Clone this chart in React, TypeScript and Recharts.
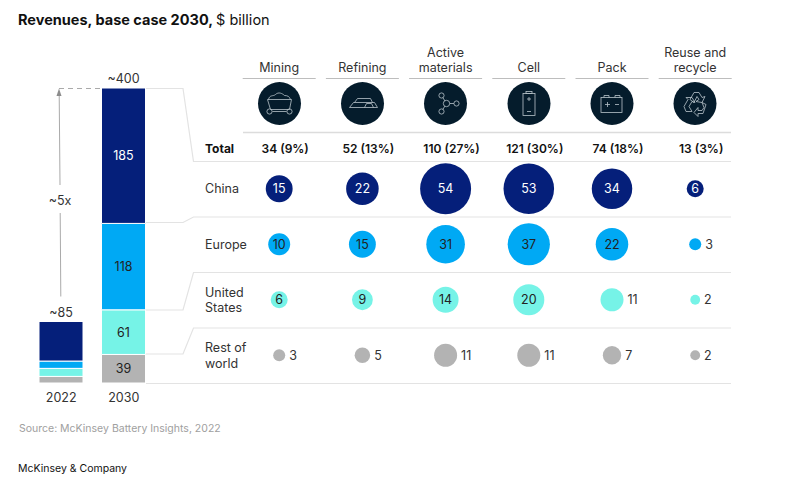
import React from 'react';
import { BarChart, Bar, XAxis, YAxis, LabelList, ScatterChart, Scatter, ZAxis } from 'recharts';

const FONT = 'Inter, "Noto Sans", sans-serif';
const NAVY = '#051F7A';
const BLUE = '#00A9F4';
const TEAL = '#76F3E7';
const GRAY = '#B3B3B3';
const INK = '#222222';
const RULE = '#E3E3E3';

// stacked bars
const years = ['2022', '2030'];
const chinaTotals = [54, 185];
const europeTotals = [10, 118];
const usTotals = [11, 61];
const restTotals = [9, 39];
const barTopLabels = ['~85', '~400'];

// bubble table
const stages = ['Mining', 'Refining', 'Active materials', 'Cell', 'Pack', 'Reuse and recycle'];
const stageTotals = ['34 (9%)', '52 (13%)', '110 (27%)', '121 (30%)', '74 (18%)', '13 (3%)'];
const regions = ['China', 'Europe', 'United States', 'Rest of world'];
const chinaValues = [15, 22, 54, 53, 34, 6];
const europeValues = [10, 15, 31, 37, 22, 3];
const usValues = [6, 9, 14, 20, 11, 2];
const restValues = [3, 5, 11, 11, 7, 2];
// which bubbles carry their number beside them instead of inside
const chinaOutside = [false, false, false, false, false, false];
const europeOutside = [false, false, false, false, false, true];
const usOutside = [false, false, false, false, true, true];
const restOutside = [true, true, true, true, true, true];

const barData = years.map((year, i) => ({
    year,
    china: chinaTotals[i],
    europe: europeTotals[i],
    us: usTotals[i],
    rest: restTotals[i],
    chinaLabel: i === 1 ? chinaTotals[i] : null,
    europeLabel: i === 1 ? europeTotals[i] : null,
    usLabel: i === 1 ? usTotals[i] : null,
    restLabel: i === 1 ? restTotals[i] : null,
    top: barTopLabels[i],
}));

const bubbleSeries = [
    { name: regions[0], values: chinaValues, outside: chinaOutside, fill: NAVY, text: '#FFFFFF' },
    { name: regions[1], values: europeValues, outside: europeOutside, fill: BLUE, text: INK },
    { name: regions[2], values: usValues, outside: usOutside, fill: TEAL, text: INK },
    { name: regions[3], values: restValues, outside: restOutside, fill: GRAY, text: INK },
];

const rowsFor = (s: any) =>
    s.values.map((value: number, i: number) => ({
        stage: stages[i],
        region: s.name,
        value,
        outside: s.outside[i],
    }));

const stageLines: Record<string, string[]> = {
    'Active materials': ['Active', 'materials'],
    'Reuse and recycle': ['Reuse and', 'recycle'],
};
const regionLines: Record<string, string[]> = {
    'United States': ['United', 'States'],
    'Rest of world': ['Rest of', 'world'],
};

const StageTick = ({ x, payload, index }: any) => {
    const lines = stageLines[payload.value] || [payload.value];
    return (
        <g fontFamily={FONT}>
            {lines.map((line, i) => (
                <text key={line} x={x} y={72 - (lines.length - 1 - i) * 15} textAnchor="middle" fontSize={12.5} fill="#333">
                    {line}
                </text>
            ))}
            <line x1={x - 36.5} x2={x + 36.5} y1={78.5} y2={78.5} stroke="#BDBDBD" />
            <text x={x + 6} y={152.5} textAnchor="middle" fontSize={12} fontWeight={600} fill="#111">
                {stageTotals[index]}
            </text>
        </g>
    );
};

const RegionTick = ({ y, payload }: any) => {
    const lines = regionLines[payload.value] || [payload.value];
    return (
        <g fontFamily={FONT}>
            {lines.map((line, i) => (
                <text key={line} x={205} y={y + 4.5 + (i - (lines.length - 1) / 2) * 15.5} fontSize={12.5} fill="#333">
                    {line}
                </text>
            ))}
        </g>
    );
};

const Bubble = (fill: string, textFill: string) => (props: any) => {
    const { cx, cy, width, payload } = props;
    const r = width / 2;
    const outside = payload.outside;
    return (
        <g>
            <circle cx={cx} cy={cy} r={r} fill={fill} />
            <text
                x={outside ? cx + r + 4 : cx}
                y={cy + 4.5}
                textAnchor={outside ? 'start' : 'middle'}
                fontFamily={FONT}
                fontSize={12.5}
                fill={outside ? '#333' : textFill}
            >
                {payload.value}
            </text>
        </g>
    );
};

const Icon = ({ x, kind }: { x: number; kind: number }) => (
    <g transform={`translate(${x},103.5)`} fill="none" stroke="#B9C4CA" strokeWidth={0.8}>
        <circle r={21.5} fill="#051C2C" stroke="none" />
        {kind === 0 && (
            <>
                <path d="M-12,-4 L12,-4 L10,6 L-9,6 Z" />
                <path d="M-11,-4 C-10,-9 -6,-7 -4,-9 C-1,-12 3,-10 5,-8 C8,-8 10,-7 11,-4" />
                <circle cx={-10} cy={8} r={2.6} />
                <circle cx={10} cy={8} r={2.6} />
                <path d="M-7,8 L7,8" />
            </>
        )}
        {kind === 1 && (
            <>
                <path d="M-13,4 L-9,-1 L12,-1 L15,4 Z" />
                <path d="M-8,-1 L-5,-5 L8,-5 L10,-1" />
                <path d="M2,4 L4,0 L9,0 L11,4" />
            </>
        )}
        {kind === 2 && (
            <>
                <circle cx={1} cy={0} r={3.2} />
                <circle cx={-4} cy={-8} r={2.6} />
                <circle cx={-4} cy={8} r={2.6} />
                <circle cx={11} cy={0} r={2.6} />
                <path d="M-2.6,-5.8 L-0.6,-2.6 M-2.6,5.8 L-0.6,2.6 M4.2,0 L8.4,0" />
            </>
        )}
        {kind === 3 && (
            <>
                <rect x={-6} y={-10} width={12} height={22} />
                <rect x={-3} y={-12} width={6} height={2} />
                <path d="M-2,-4.5 L2,-4.5 M0,-6.5 L0,-2.5 M-2,8 L2,8" />
            </>
        )}
        {kind === 4 && (
            <>
                <rect x={-11} y={-6} width={21} height={15} />
                <path d="M-8,-6 L-8,-8 L-3,-8 L-3,-6 M3,-6 L3,-8 L8,-8 L8,-6" />
                <path d="M-7,1 L-2,1 M-4.5,-1.5 L-4.5,3.5 M3,1 L7,1" />
            </>
        )}
        {kind === 5 && (
            <>
                <path d="M-5,-4 L-1,-11 L4,-11 L7,-6 L10,-7 L7,-1 L1,-2 L4,-4 L2,-7 L-1,-1 Z" />
                <path d="M-11,3 L-7,-4 L-9,-6 L-3,-6 L0,-1 L-3,-2 L-6,3 L-3,8 L-9,8 Z" />
                <path d="M11,1 L7,-1 L9,4 L7,7 L3,7 L3,4 L-1,9 L3,13 L3,10 L8,10 Z" />
            </>
        )}
    </g>
);

const connectors = [
    'M146,88.5 H183 L193.5,161.5 H731',
    'M146,222.5 H183 L193.5,217 H731',
    'M146,310 H183 L193.5,272.5 H731',
    'M146,354 H183 L193.5,328 H731',
    'M146,383.5 H731',
];

const iconCentres = [279.5, 362.5, 445.5, 529, 612, 695];

export default function App() {
    return (
        <div style={{ position: 'absolute', left: 0, top: 0, width: 792, height: 485, background: '#fff', overflow: 'hidden' }}>
            <svg width={792} height={485} style={{ position: 'absolute', left: 0, top: 0 }} fontFamily={FONT}>
                <text x={18} y={25} fontSize={14.5} fill="#111">
                    <tspan fontWeight={700}>Revenues, base case 2030, </tspan>
                    <tspan>$ billion</tspan>
                </text>

                {connectors.map((d) => (
                    <path key={d} d={d} fill="none" stroke={RULE} strokeWidth={1.2} />
                ))}
                <line x1={243} x2={731} y1={132.5} y2={132.5} stroke="#DCDCDC" strokeWidth={1.5} />

                <text x={205} y={152.5} fontSize={12} fontWeight={700} fill="#111">Total</text>

                {iconCentres.map((x, i) => (
                    <Icon key={x} x={x} kind={i} />
                ))}

                {/* growth arrow */}
                <path d="M59,88.5 H101" stroke="#AAAAAA" strokeDasharray="5 4" fill="none" />
                <path d="M59.2,94 L60,185 M60.2,213 L60.8,296.5" stroke="#AAAAAA" strokeWidth={1} fill="none" />
                <path d="M59,88.5 L56.5,96 L61.5,96 Z" fill="#8C8C8C" />
                <text x={60} y={205} textAnchor="middle" fontSize={12.5} fill="#333">~5x</text>

                <text x={19} y={432} fontSize={10.5} fill="#A0A0A0">Source: McKinsey Battery Insights, 2022</text>
                <text x={18} y={472} fontSize={10.5} fill="#111">McKinsey &amp; Company</text>
            </svg>

            <div style={{ position: 'absolute', left: 0, top: 0 }}>
                <BarChart
                    width={180}
                    height={420}
                    data={barData}
                    margin={{ top: 88, right: 25, bottom: 0, left: 30 }}
                    barSize={44}
                    stackOffset="none"
                >
                    <XAxis
                        dataKey="year"
                        axisLine={false}
                        tickLine={false}
                        interval={0}
                        height={37}
                        tickMargin={4}
                        tick={{ fill: '#333', fontSize: 12.5, fontFamily: FONT }}
                    />
                    <YAxis hide domain={[0, 403]} />
                    <Bar dataKey="rest" stackId="a" fill={GRAY} stroke="#fff" isAnimationActive={false}>
                        <LabelList dataKey="restLabel" position="center" fill={INK} fontSize={12.5} fontFamily={FONT} />
                    </Bar>
                    <Bar dataKey="us" stackId="a" fill={TEAL} stroke="#fff" isAnimationActive={false}>
                        <LabelList dataKey="usLabel" position="center" fill={INK} fontSize={12.5} fontFamily={FONT} />
                    </Bar>
                    <Bar dataKey="europe" stackId="a" fill={BLUE} stroke="#fff" isAnimationActive={false}>
                        <LabelList dataKey="europeLabel" position="center" fill={INK} fontSize={12.5} fontFamily={FONT} />
                    </Bar>
                    <Bar dataKey="china" stackId="a" fill={NAVY} stroke="#fff" isAnimationActive={false}>
                        <LabelList dataKey="chinaLabel" position="center" fill="#fff" fontSize={12.5} fontFamily={FONT} />
                        <LabelList dataKey="top" position="top" fill="#333" fontSize={12.5} fontFamily={FONT} />
                    </Bar>
                </BarChart>
            </div>

            <div style={{ position: 'absolute', left: 0, top: 0 }}>
                <ScatterChart width={792} height={420} margin={{ top: 0, right: 55.2, bottom: 37, left: 0 }}>
                    <XAxis
                        xAxisId={0}
                        type="category"
                        dataKey="stage"
                        orientation="top"
                        allowDuplicatedCategory={false}
                        domain={stages}
                        height={161}
                        axisLine={false}
                        tickLine={false}
                        interval={0}
                        tick={<StageTick />}
                    />
                    <YAxis
                        yAxisId={0}
                        type="category"
                        dataKey="region"
                        allowDuplicatedCategory={false}
                        domain={regions}
                        reversed
                        width={237.6}
                        axisLine={false}
                        tickLine={false}
                        interval={0}
                        tick={<RegionTick />}
                    />
                    <ZAxis type="number" dataKey="value" domain={[0, 54]} range={[0, 2043]} />
                    {bubbleSeries.map((s) => (
                        <Scatter
                            key={s.name}
                            name={s.name}
                            data={rowsFor(s)}
                            fill={s.fill}
                            shape={Bubble(s.fill, s.text)}
                            isAnimationActive={false}
                        />
                    ))}
                </ScatterChart>
            </div>
        </div>
    );
}
